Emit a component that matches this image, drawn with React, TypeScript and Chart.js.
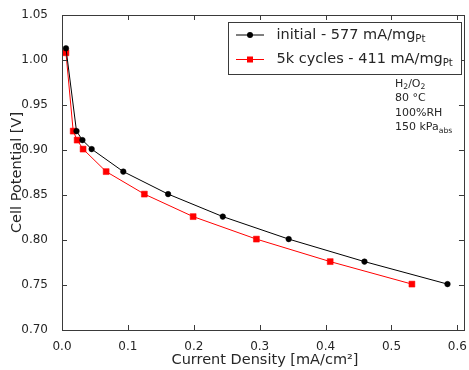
import React, { useEffect, useRef } from "react";
import { Chart, registerables } from "chart.js";

Chart.register(...registerables);

const initialX = [0.006, 0.022, 0.031, 0.045, 0.093, 0.161, 0.244, 0.344, 0.459, 0.585];
const initialY = [1.013, 0.921, 0.911, 0.901, 0.876, 0.851, 0.826, 0.801, 0.776, 0.751];
const cyclesX = [0.006, 0.017, 0.023, 0.032, 0.067, 0.125, 0.199, 0.295, 0.407, 0.531];
const cyclesY = [1.008, 0.921, 0.911, 0.901, 0.876, 0.851, 0.826, 0.801, 0.776, 0.751];

const xTicks = [0, 0.1, 0.2, 0.3, 0.4, 0.5, 0.6];
const yTicks = [0.7, 0.75, 0.8, 0.85, 0.9, 0.95, 1.0, 1.05];

const legendLabels = [
  { main: "initial - 577 mA/mg", sub: "Pt", color: "#000000", style: "circle" },
  { main: "5k cycles - 411 mA/mg", sub: "Pt", color: "#ff0000", style: "rect" },
];
const conditions = ["H|2|/O|2|", "80 °C", "100%RH", "150 kPa|abs|"];
const xTitle = "Current Density [mA/cm²]";
const yTitle = "Cell Potential [V]";

const FONT = "'DejaVu Sans', sans-serif";
const TEXT = "#262626";

function drawSubText(ctx: CanvasRenderingContext2D, spec: string, x: number, y: number, size: number) {
  // spec segments separated by "|": even = normal, odd = subscript
  const parts = spec.split("|");
  let cx = x;
  parts.forEach((p, i) => {
    if (!p) return;
    const sub = i % 2 === 1;
    ctx.font = `${sub ? size * 0.7 : size}px ${FONT}`;
    ctx.fillText(p, cx, sub ? y + size * 0.3 : y);
    cx += ctx.measureText(p).width;
  });
}

const overlay = {
  id: "overlay",
  afterDraw(chart: any) {
    const { ctx, chartArea: a, scales } = chart;
    const xs = scales.x;
    const ys = scales.y;
    ctx.save();
    // frame
    ctx.strokeStyle = "#3a3a3a";
    ctx.lineWidth = 1;
    ctx.strokeRect(Math.round(a.left) + 0.5, Math.round(a.top) + 0.5, Math.round(a.right - a.left), Math.round(a.bottom - a.top));
    // inward ticks
    const tl = 5;
    ctx.beginPath();
    xTicks.forEach((v) => {
      const px = Math.round(xs.getPixelForValue(v)) + 0.5;
      ctx.moveTo(px, a.bottom);
      ctx.lineTo(px, a.bottom - tl);
      ctx.moveTo(px, a.top);
      ctx.lineTo(px, a.top + tl);
    });
    yTicks.forEach((v) => {
      const py = Math.round(ys.getPixelForValue(v)) + 0.5;
      ctx.moveTo(a.left, py);
      ctx.lineTo(a.left + tl, py);
      ctx.moveTo(a.right, py);
      ctx.lineTo(a.right - tl, py);
    });
    ctx.stroke();

    // legend
    const lx = 228.5, ly = 22.5, lw = 233, lh = 52;
    ctx.fillStyle = "#ffffff";
    ctx.fillRect(lx, ly, lw, lh);
    ctx.strokeStyle = "#3a3a3a";
    ctx.strokeRect(lx, ly, lw, lh);
    legendLabels.forEach((l, i) => {
      const y = 35 + i * 24.5;
      ctx.strokeStyle = l.color;
      ctx.lineWidth = 1;
      ctx.beginPath();
      ctx.moveTo(236, y);
      ctx.lineTo(264, y);
      ctx.stroke();
      ctx.fillStyle = l.color;
      if (l.style === "circle") {
        ctx.beginPath();
        ctx.arc(250, y, 3, 0, Math.PI * 2);
        ctx.fill();
      } else {
        ctx.fillRect(247, y - 3, 6, 6);
      }
      ctx.fillStyle = TEXT;
      ctx.textBaseline = "middle";
      ctx.textAlign = "left";
      drawSubText(ctx, `${l.main}|${l.sub}|`, 276.5, y, 14.5);
    });

    // conditions
    ctx.fillStyle = TEXT;
    ctx.textBaseline = "middle";
    conditions.forEach((c, i) => {
      drawSubText(ctx, c, 395, 84 + i * 14.5, 11);
    });

    // axis titles
    ctx.font = `14.5px ${FONT}`;
    ctx.textAlign = "center";
    ctx.textBaseline = "middle";
    ctx.fillText(xTitle, 265, 360);
    ctx.save();
    ctx.translate(17, (a.top + a.bottom) / 2);
    ctx.rotate(-Math.PI / 2);
    ctx.fillText(yTitle, 0, 0);
    ctx.restore();
    ctx.restore();
  },
};

export default function App() {
  const ref = useRef<HTMLCanvasElement>(null);
  useEffect(() => {
    if (!ref.current) return;
    const chart = new Chart(ref.current, {
      type: "scatter",
      data: {
        datasets: [
          {
            label: "initial",
            data: initialX.map((x, i) => ({ x, y: initialY[i] })),
            showLine: true,
            borderColor: "#000000",
            backgroundColor: "#000000",
            borderWidth: 1,
            pointStyle: "circle",
            pointRadius: 2.8,
            pointBorderWidth: 0.5,
            tension: 0,
          },
          {
            label: "5k cycles",
            data: cyclesX.map((x, i) => ({ x, y: cyclesY[i] })),
            showLine: true,
            borderColor: "#ff0000",
            backgroundColor: "#ff0000",
            borderWidth: 1,
            pointStyle: "rect",
            pointRadius: 4.2,
            pointBorderWidth: 0.5,
            tension: 0,
          },
        ],
      },
      options: {
        responsive: false,
        animation: false,
        devicePixelRatio: 1,
        layout: { padding: { left: 0, top: 15, right: 2, bottom: 0 } },
        plugins: { legend: { display: false }, tooltip: { enabled: false } },
        scales: {
          x: {
            type: "linear",
            min: 0,
            max: 0.61,
            afterBuildTicks: (s: any) => {
              s.ticks = xTicks.map((v) => ({ value: v }));
            },
            afterFit: (s: any) => {
              s.height = 40;
            },
            grid: { display: false },
            border: { display: false },
            ticks: {
              color: TEXT,
              font: { family: FONT, size: 12 },
              padding: 2,
              maxRotation: 0,
              autoSkip: false,
              callback: (v: any) => Number(v).toFixed(1),
            },
          },
          y: {
            type: "linear",
            min: 0.7,
            max: 1.05,
            afterBuildTicks: (s: any) => {
              s.ticks = yTicks.map((v) => ({ value: v }));
            },
            afterFit: (s: any) => {
              s.width = 62;
            },
            grid: { display: false },
            border: { display: false },
            ticks: {
              color: TEXT,
              font: { family: FONT, size: 12 },
              padding: 6,
              autoSkip: false,
              callback: (v: any) => Number(v).toFixed(2),
            },
          },
        },
      },
      plugins: [overlay],
    } as any);
    return () => chart.destroy();
  }, []);
  return (
    <div style={{ position: "absolute", left: 0, top: 0, width: 469, height: 370, background: "#fff" }}>
      <canvas ref={ref} width={469} height={370} style={{ display: "block" }} />
    </div>
  );
}
